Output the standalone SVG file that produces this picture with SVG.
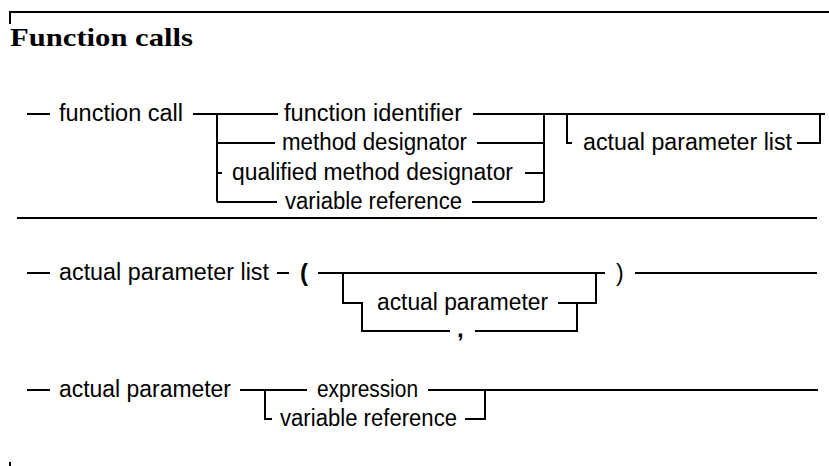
<svg xmlns="http://www.w3.org/2000/svg" width="829" height="466" viewBox="0 0 829 466">
  <style>
    .lbl { font-family: "Liberation Sans", Arial, sans-serif; font-size: 23px; fill: #000; }
    .term { font-family: "Liberation Sans", Arial, sans-serif; font-size: 24px; font-weight: bold; fill: #000; }
    .title { font-family: "Liberation Serif", "Times New Roman", serif; font-size: 25px; font-weight: bold; fill: #000; }
    .rail { fill: none; stroke: #000; stroke-width: 2; }
  </style>
  <rect width="829" height="466" fill="#fff"/>

  <!-- page frame marks -->
  <path class="rail" d="M10,24 V12 H829 M10,462 V466"/>
  <text class="title" x="10" y="46" textLength="183" lengthAdjust="spacingAndGlyphs">Function calls</text>

  <!-- rails and branches -->
  <g id="connectors">
    <!-- function call -->
    <path class="rail" d="M27,114 H50 M193,114 H278 M217,114 V202 M217,143 H275 M217,173 H222 M217,202 H277 M473,114 H825 M477,143 H544 M525,173 H544 M472,202 H544 M544,114 V202 M567,114 V143 H572 M797,143 H820 V114"/>
    <!-- section separator -->
    <path class="rail" d="M17,218 H817"/>
    <!-- actual parameter list -->
    <path class="rail" d="M27,273 H50 M277,273 H289 M318,273 H605 M343,273 V303 H363 M362,303 V331 H450 M475,331 H577 V303 M558,303 H596 V273 M635,273 H817"/>
    <!-- actual parameter -->
    <path class="rail" d="M27,390 H50 M240,390 H307 M265,390 V419 H272 M428,390 H818 M465,419 H485 V390"/>
  </g>

  <g id="n-function-call"><text class="lbl" x="59" y="120.5" textLength="124" lengthAdjust="spacingAndGlyphs">function call</text></g>
  <g id="n-function-identifier"><text class="lbl" x="284" y="120.5" textLength="178" lengthAdjust="spacingAndGlyphs">function identifier</text></g>
  <g id="n-method-designator"><text class="lbl" x="282" y="149.5" textLength="185" lengthAdjust="spacingAndGlyphs">method designator</text></g>
  <g id="n-qualified-method-designator"><text class="lbl" x="232" y="179.5" textLength="281" lengthAdjust="spacingAndGlyphs">qualified method designator</text></g>
  <g id="n-variable-reference-1"><text class="lbl" x="285" y="208.5" textLength="177" lengthAdjust="spacingAndGlyphs">variable reference</text></g>
  <g id="n-actual-parameter-list-ref"><text class="lbl" x="583" y="149.5" textLength="209" lengthAdjust="spacingAndGlyphs">actual parameter list</text></g>

  <g id="n-actual-parameter-list"><text class="lbl" x="59" y="279.5" textLength="210" lengthAdjust="spacingAndGlyphs">actual parameter list</text></g>
  <g id="n-lparen"><text class="term" x="300" y="281">(</text></g>
  <g id="n-actual-parameter-ref"><text class="lbl" x="377" y="309.5" textLength="171" lengthAdjust="spacingAndGlyphs">actual parameter</text></g>
  <g id="n-comma"><text class="term" x="457" y="337">,</text></g>
  <g id="n-rparen"><text class="lbl" x="616" y="281">)</text></g>

  <g id="n-actual-parameter"><text class="lbl" x="59" y="396.5" textLength="172" lengthAdjust="spacingAndGlyphs">actual parameter</text></g>
  <g id="n-expression"><text class="lbl" x="317" y="396.5" textLength="101" lengthAdjust="spacingAndGlyphs">expression</text></g>
  <g id="n-variable-reference-2"><text class="lbl" x="280" y="425.5" textLength="177" lengthAdjust="spacingAndGlyphs">variable reference</text></g>
</svg>
